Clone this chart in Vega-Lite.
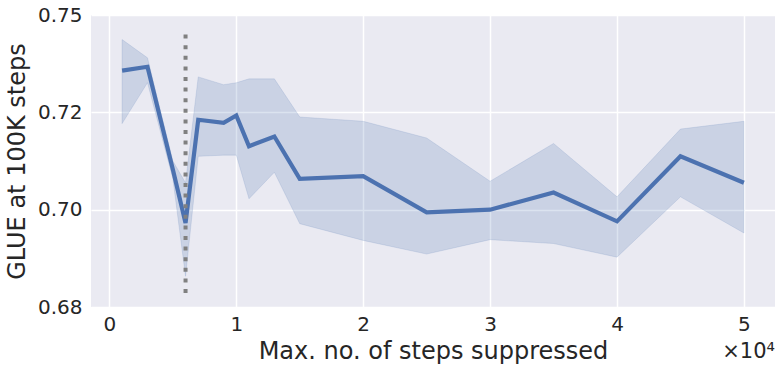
{
  "$schema": "https://vega.github.io/schema/vega-lite/v6.json",
  "width": 684,
  "height": 292,
  "autosize": {"type": "none"},
  "padding": {"left": 91, "top": 15, "right": 6, "bottom": 64},
  "background": "white",
  "config": {
    "font": "DejaVu Sans",
    "view": {"fill": "#eaeaf2", "stroke": null},
    "axis": {
      "domain": false,
      "ticks": false,
      "grid": true,
      "gridColor": "white",
      "gridWidth": 1.5,
      "labelFont": "DejaVu Sans",
      "labelFontSize": 20,
      "labelColor": "#262626",
      "titleFont": "DejaVu Sans",
      "titleFontSize": 24,
      "titleFontWeight": "normal",
      "titleColor": "#262626",
      "labelFlush": false,
      "labelOverlap": false,
      "labelBound": false
    }
  },
  "title": {
    "text": "×10⁴",
    "orient": "bottom",
    "anchor": "end",
    "fontSize": 21,
    "fontWeight": "normal",
    "color": "#262626",
    "font": "DejaVu Sans",
    "offset": -22
  },
  "datasets": {
    "series": [
      {"steps": 1000, "mean": 0.7357, "lo": 0.7221, "hi": 0.7437},
      {"steps": 3000, "mean": 0.7367, "lo": 0.7326, "hi": 0.7390},
      {"steps": 5000, "mean": 0.7103, "lo": 0.7080, "hi": 0.7125},
      {"steps": 6000, "mean": 0.6966, "lo": 0.6829, "hi": 0.7069},
      {"steps": 7000, "mean": 0.7231, "lo": 0.7137, "hi": 0.7341},
      {"steps": 9000, "mean": 0.7223, "lo": 0.7140, "hi": 0.7321},
      {"steps": 10000, "mean": 0.7242, "lo": 0.7140, "hi": 0.7326},
      {"steps": 11000, "mean": 0.7163, "lo": 0.7028, "hi": 0.7336},
      {"steps": 13000, "mean": 0.7188, "lo": 0.7096, "hi": 0.7336},
      {"steps": 15000, "mean": 0.7079, "lo": 0.6964, "hi": 0.7238},
      {"steps": 20000, "mean": 0.7086, "lo": 0.6921, "hi": 0.7227},
      {"steps": 25000, "mean": 0.6993, "lo": 0.6886, "hi": 0.7184},
      {"steps": 30000, "mean": 0.7000, "lo": 0.6923, "hi": 0.7073},
      {"steps": 35000, "mean": 0.7044, "lo": 0.6913, "hi": 0.7170},
      {"steps": 40000, "mean": 0.6970, "lo": 0.6878, "hi": 0.7033},
      {"steps": 45000, "mean": 0.7137, "lo": 0.7033, "hi": 0.7207},
      {"steps": 50000, "mean": 0.7069, "lo": 0.6940, "hi": 0.7227}
    ],
    "marker": [
      {"steps": 6000, "ymin": 0.6786, "ymax": 0.7458}
    ]
  },
  "layer": [
    {
      "data": {"name": "series"},
      "mark": {"type": "area", "color": "#4c72b0", "fillOpacity": 0.2, "stroke": "#4c72b0", "strokeOpacity": 0.15, "strokeWidth": 1},
      "encoding": {
        "x": {
          "field": "steps",
          "type": "quantitative",
          "scale": {"domain": [-1450, 52450], "nice": false, "zero": false},
          "axis": {
            "values": [0, 10000, 20000, 30000, 40000, 50000],
            "labelExpr": "format(datum.value / 10000, 'd')",
            "labelPadding": 7,
            "title": "Max. no. of steps suppressed",
            "titlePadding": 5
          }
        },
        "y": {
          "field": "lo",
          "type": "quantitative",
          "scale": {"domain": [0.675, 0.75], "nice": false, "zero": false},
          "axis": {
            "values": [0.675, 0.7, 0.725, 0.75],
            "format": ".2f",
            "labelPadding": 9,
            "title": "GLUE at 100K steps",
            "titlePadding": 8
          }
        },
        "y2": {"field": "hi"}
      }
    },
    {
      "data": {"name": "series"},
      "mark": {"type": "line", "color": "#4c72b0", "strokeWidth": 4.2},
      "encoding": {
        "x": {"field": "steps", "type": "quantitative"},
        "y": {"field": "mean", "type": "quantitative"}
      }
    },
    {
      "data": {"name": "marker"},
      "mark": {"type": "rule", "color": "#808080", "strokeWidth": 4, "strokeDash": [4, 6.6]},
      "encoding": {
        "x": {"field": "steps", "type": "quantitative"},
        "y": {"field": "ymin", "type": "quantitative"},
        "y2": {"field": "ymax"}
      }
    }
  ]
}
